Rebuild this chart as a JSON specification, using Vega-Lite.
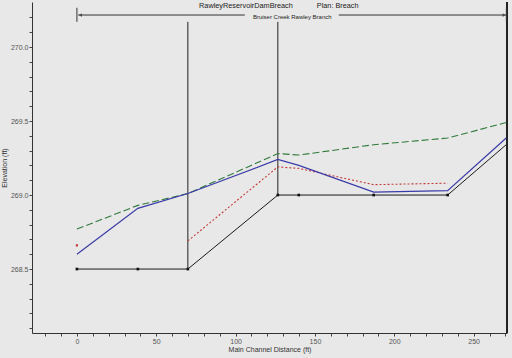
{
  "$schema": "https://vega.github.io/schema/vega-lite/v6.json",
  "width": 475,
  "height": 331,
  "autosize": {"type": "none"},
  "padding": {"left": 32, "top": 2, "right": 5, "bottom": 25},
  "background": "#e8e8e8",
  "config": {
    "view": {"stroke": null},
    "font": "Liberation Sans",
    "axis": {
      "grid": false,
      "domainColor": "#333333",
      "tickColor": "#444444",
      "tickSize": 3,
      "labelFontSize": 7,
      "labelColor": "#555555",
      "labelOverlap": false,
      "labelFlush": false,
      "titleFontSize": 7,
      "titleFontWeight": "normal",
      "titleColor": "#333333"
    }
  },
  "datasets": {
    "ground": [
      {"d": 0, "e": 268.5},
      {"d": 38.4, "e": 268.5},
      {"d": 69.9, "e": 268.5},
      {"d": 126.6, "e": 269.0},
      {"d": 139.8, "e": 269.0},
      {"d": 187, "e": 269.0},
      {"d": 233.6, "e": 269.0},
      {"d": 270.5, "e": 269.34}
    ],
    "green": [
      {"d": 0, "e": 268.77},
      {"d": 38.4, "e": 268.93},
      {"d": 69.9, "e": 269.01},
      {"d": 126.6, "e": 269.28},
      {"d": 139.8, "e": 269.27},
      {"d": 187, "e": 269.34},
      {"d": 233.6, "e": 269.385},
      {"d": 270.5, "e": 269.49}
    ],
    "blue": [
      {"d": 0, "e": 268.6},
      {"d": 38.4, "e": 268.91},
      {"d": 69.9, "e": 269.01},
      {"d": 126.6, "e": 269.24},
      {"d": 139.8, "e": 269.2},
      {"d": 187, "e": 269.02},
      {"d": 233.6, "e": 269.03},
      {"d": 270.5, "e": 269.385}
    ],
    "red": [
      {"d": 69.9, "e": 268.69},
      {"d": 126.6, "e": 269.19},
      {"d": 139.8, "e": 269.18},
      {"d": 187, "e": 269.07},
      {"d": 233.6, "e": 269.08}
    ],
    "redpt": [{"d": 0, "e": 268.66}],
    "verticals": [
      {"d": 69.9, "lo": 268.5, "hi": 270.17},
      {"d": 126.6, "lo": 269.0, "hi": 270.17}
    ],
    "arrow": [
      {"a": 0.8, "b": 105.8, "e": 270.216},
      {"a": 165, "b": 270.6, "e": 270.216}
    ],
    "arrowticks": [
      {"d": 0, "lo": 270.17, "hi": 270.265},
      {"d": 270.6, "lo": 270.17, "hi": 270.265}
    ],
    "heads": [
      {"d": 2.2, "e": 270.216, "s": "triangle-left"},
      {"d": 269.2, "e": 270.216, "s": "triangle-right"}
    ],
    "titles": [
      {"d": 106.5, "e": 270.275, "t": "RawleyReservoirDamBreach"},
      {"d": 164.3, "e": 270.275, "t": "Plan: Breach"}
    ],
    "sub": [{"d": 135.7, "e": 270.205, "t": "Bruiser Creek Rawley Branch"}],
    "border": [{"d": 271, "lo": 268.068, "hi": 270.304}]
  },
  "layer": [
    {
      "data": {"name": "verticals"},
      "mark": {"type": "rule", "color": "#222222", "strokeWidth": 1},
      "encoding": {
        "x": {
          "field": "d",
          "type": "quantitative",
          "scale": {"domain": [-28.3, 271], "nice": false, "zero": false},
          "axis": {
            "title": "Main Channel Distance (ft)",
            "titlePadding": 1,
            "tickCount": 200,
            "values": [-20, -10, 0, 10, 20, 30, 40, 50, 60, 70, 80, 90, 100, 110, 120, 130, 140, 150, 160, 170, 180, 190, 200, 210, 220, 230, 240, 250, 260, 270],
            "labelExpr": "datum.value % 50 == 0 ? format(datum.value, 'd') : ''",
            "labelPadding": 1
          }
        },
        "y": {
          "field": "lo",
          "type": "quantitative",
          "scale": {"domain": [268.068, 270.304], "nice": false, "zero": false},
          "axis": {
            "title": "Elevation (ft)",
            "titlePadding": 3,
            "tickCount": 200,
            "values": [268.1, 268.2, 268.3, 268.4, 268.5, 268.6, 268.7, 268.8, 268.9, 269.0, 269.1, 269.2, 269.3, 269.4, 269.5, 269.6, 269.7, 269.8, 269.9, 270.0, 270.1, 270.2],
            "labelExpr": "abs(datum.value * 2 - round(datum.value * 2)) < 0.001 ? format(datum.value, '.1f') : ''",
            "labelPadding": 1
          }
        },
        "y2": {"field": "hi"}
      }
    },
    {
      "data": {"name": "border"},
      "mark": {"type": "rule", "color": "#222222", "strokeWidth": 2},
      "encoding": {
        "x": {"field": "d", "type": "quantitative"},
        "y": {"field": "lo", "type": "quantitative"},
        "y2": {"field": "hi"}
      }
    },
    {
      "data": {"name": "arrow"},
      "mark": {"type": "rule", "color": "#333333", "strokeWidth": 1},
      "encoding": {
        "x": {"field": "a", "type": "quantitative"},
        "x2": {"field": "b"},
        "y": {"field": "e", "type": "quantitative"}
      }
    },
    {
      "data": {"name": "arrowticks"},
      "mark": {"type": "rule", "color": "#333333", "strokeWidth": 1},
      "encoding": {
        "x": {"field": "d", "type": "quantitative"},
        "y": {"field": "lo", "type": "quantitative"},
        "y2": {"field": "hi"}
      }
    },
    {
      "data": {"name": "heads"},
      "mark": {"type": "point", "filled": true, "color": "#333333", "size": 14},
      "encoding": {
        "x": {"field": "d", "type": "quantitative"},
        "y": {"field": "e", "type": "quantitative"},
        "shape": {"field": "s", "type": "nominal", "scale": null, "legend": null}
      }
    },
    {
      "data": {"name": "ground"},
      "mark": {"type": "line", "color": "#1a1a1a", "strokeWidth": 1},
      "encoding": {
        "x": {"field": "d", "type": "quantitative"},
        "y": {"field": "e", "type": "quantitative"}
      }
    },
    {
      "data": {"name": "ground"},
      "transform": [{"filter": "datum.d < 250"}],
      "mark": {"type": "square", "color": "#111111", "size": 7, "opacity": 1},
      "encoding": {
        "x": {"field": "d", "type": "quantitative"},
        "y": {"field": "e", "type": "quantitative"}
      }
    },
    {
      "data": {"name": "red"},
      "mark": {"type": "line", "color": "#c43a3a", "strokeWidth": 1.1, "strokeDash": [2, 2]},
      "encoding": {
        "x": {"field": "d", "type": "quantitative"},
        "y": {"field": "e", "type": "quantitative"}
      }
    },
    {
      "data": {"name": "redpt"},
      "mark": {"type": "square", "color": "#c43a3a", "size": 5, "opacity": 1},
      "encoding": {
        "x": {"field": "d", "type": "quantitative"},
        "y": {"field": "e", "type": "quantitative"}
      }
    },
    {
      "data": {"name": "green"},
      "mark": {"type": "line", "color": "#2f7a3a", "strokeWidth": 1.1, "strokeDash": [7, 3]},
      "encoding": {
        "x": {"field": "d", "type": "quantitative"},
        "y": {"field": "e", "type": "quantitative"}
      }
    },
    {
      "data": {"name": "blue"},
      "mark": {"type": "line", "color": "#3a3aa8", "strokeWidth": 1.2},
      "encoding": {
        "x": {"field": "d", "type": "quantitative"},
        "y": {"field": "e", "type": "quantitative"}
      }
    },
    {
      "data": {"name": "titles"},
      "mark": {"type": "text", "fontSize": 7.3, "color": "#222222", "baseline": "middle", "align": "center"},
      "encoding": {
        "x": {"field": "d", "type": "quantitative"},
        "y": {"field": "e", "type": "quantitative"},
        "text": {"field": "t"}
      }
    },
    {
      "data": {"name": "sub"},
      "mark": {"type": "text", "fontSize": 6, "color": "#222222", "baseline": "middle", "align": "center"},
      "encoding": {
        "x": {"field": "d", "type": "quantitative"},
        "y": {"field": "e", "type": "quantitative"},
        "text": {"field": "t"}
      }
    }
  ]
}
